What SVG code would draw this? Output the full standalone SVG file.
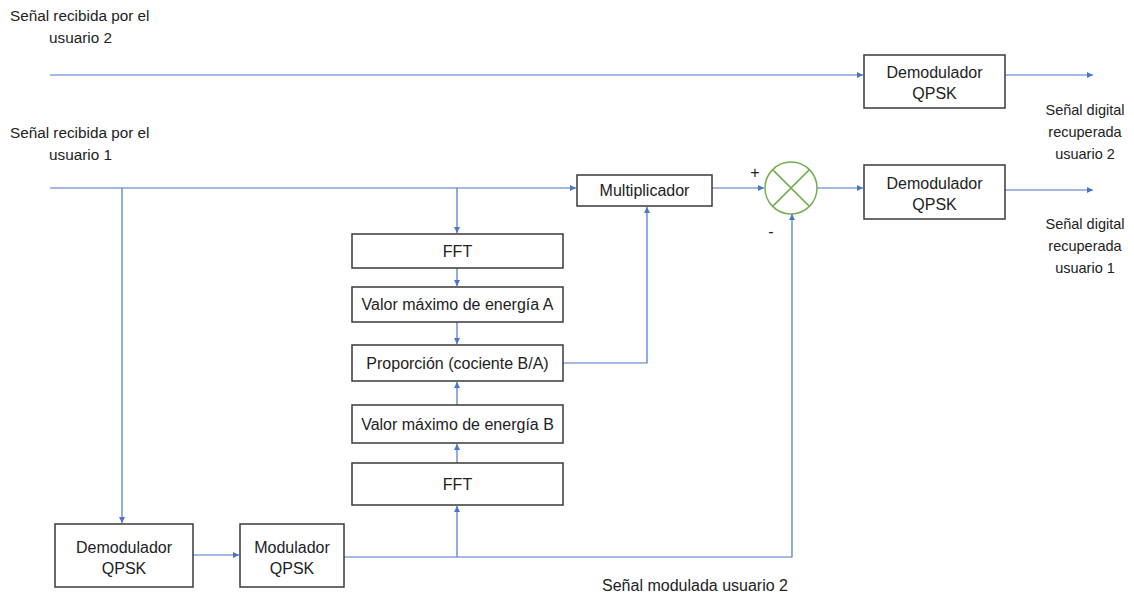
<svg xmlns="http://www.w3.org/2000/svg" width="1134" height="594" viewBox="0 0 1134 594">
<defs>
<style>
.box{fill:#fff;stroke:#3a3a3a;stroke-width:1.5}
.t{font-family:"Liberation Sans",Arial,sans-serif;font-size:16px;fill:#222;text-anchor:middle}
.tl{font-family:"Liberation Sans",Arial,sans-serif;font-size:15.3px;fill:#222}
.tr{font-family:"Liberation Sans",Arial,sans-serif;font-size:14.5px;fill:#222;text-anchor:middle}
.c{fill:none;stroke:#4a76c6;stroke-width:1.2}
</style>
<marker id="a" viewBox="0 0 6 6" refX="6" refY="3" markerWidth="6" markerHeight="6" markerUnits="userSpaceOnUse" orient="auto">
<path d="M0,0 L6,3 L0,6 z" fill="#4a76c6"/>
</marker>
</defs>
<rect width="1134" height="594" fill="#fff"/>
<g id="labels">
<text class="tl" x="10" y="21">Señal recibida por el</text>
<text class="tl" x="49" y="43">usuario 2</text>
<text class="tl" x="10" y="138">Señal recibida por el</text>
<text class="tl" x="49" y="160">usuario 1</text>
<text class="tr" x="1085" y="115">Señal digital</text>
<text class="tr" x="1085" y="137">recuperada</text>
<text class="tr" x="1085" y="159">usuario 2</text>
<text class="tr" x="1085" y="229">Señal digital</text>
<text class="tr" x="1085" y="251">recuperada</text>
<text class="tr" x="1085" y="273">usuario 1</text>
<text class="t" x="695" y="591" font-size="17.5">Señal modulada usuario 2</text>
<text class="t" x="755" y="178" font-size="10">+</text>
<text class="t" x="771" y="237" font-size="10">-</text>
</g>
<g id="connectors">
<path class="c" d="M50,75 H863" marker-end="url(#a)"/>
<path class="c" d="M1005,75 H1093" marker-end="url(#a)"/>
<path class="c" d="M50,188 H576" marker-end="url(#a)"/>
<path class="c" d="M712,188 H764" marker-end="url(#a)"/>
<path class="c" d="M817,188 H863" marker-end="url(#a)"/>
<path class="c" d="M1005,190 H1093" marker-end="url(#a)"/>
<path class="c" d="M122,188 V523" marker-end="url(#a)"/>
<path class="c" d="M457,188 V233" marker-end="url(#a)"/>
<path class="c" d="M457,268 V286" marker-end="url(#a)"/>
<path class="c" d="M457,322 V344" marker-end="url(#a)"/>
<path class="c" d="M457,405 V382" marker-end="url(#a)"/>
<path class="c" d="M457,463 V444" marker-end="url(#a)"/>
<path class="c" d="M457,557 V506" marker-end="url(#a)"/>
<path class="c" d="M563,363 H647 V207" marker-end="url(#a)"/>
<path class="c" d="M193,555 H239" marker-end="url(#a)"/>
<path class="c" d="M344,557 H792 V214" marker-end="url(#a)"/>
</g>
<g id="demod2">
<rect class="box" x="864" y="55" width="141" height="53"/>
<text class="t" x="934.5" y="78" font-size="16.5">Demodulador</text>
<text class="t" x="934.5" y="99" font-size="16.5">QPSK</text>
</g>
<g id="demod1">
<rect class="box" x="864" y="165" width="141" height="54"/>
<text class="t" x="934.5" y="189" font-size="16.5">Demodulador</text>
<text class="t" x="934.5" y="210" font-size="16.5">QPSK</text>
</g>
<g id="multiplicador">
<rect class="box" x="577" y="175" width="135" height="31"/>
<text class="t" x="644.5" y="196">Multiplicador</text>
</g>
<g id="sumador">
<circle cx="791" cy="188" r="26" fill="#fff" stroke="#70b050" stroke-width="1.5"/>
<path d="M772.6,169.6 L809.4,206.4 M809.4,169.6 L772.6,206.4" stroke="#70b050" stroke-width="1.5"/>
</g>
<g id="fftA">
<rect class="box" x="352" y="234" width="211" height="34"/>
<text class="t" x="457.5" y="257">FFT</text>
</g>
<g id="valorA">
<rect class="box" x="352" y="287" width="211" height="35"/>
<text class="t" x="457.5" y="310">Valor máximo de energía A</text>
</g>
<g id="proporcion">
<rect class="box" x="352" y="345" width="211" height="36"/>
<text class="t" x="457.5" y="369">Proporción (cociente B/A)</text>
</g>
<g id="valorB">
<rect class="box" x="352" y="405" width="211" height="38"/>
<text class="t" x="457.5" y="430">Valor máximo de energía B</text>
</g>
<g id="fftB">
<rect class="box" x="352" y="463" width="211" height="42"/>
<text class="t" x="457.5" y="490">FFT</text>
</g>
<g id="demod3">
<rect class="box" x="55" y="524" width="138" height="63"/>
<text class="t" x="124" y="553">Demodulador</text>
<text class="t" x="124" y="574">QPSK</text>
</g>
<g id="modulador">
<rect class="box" x="240" y="524" width="104" height="63"/>
<text class="t" x="292" y="553">Modulador</text>
<text class="t" x="292" y="574">QPSK</text>
</g>
</svg>
